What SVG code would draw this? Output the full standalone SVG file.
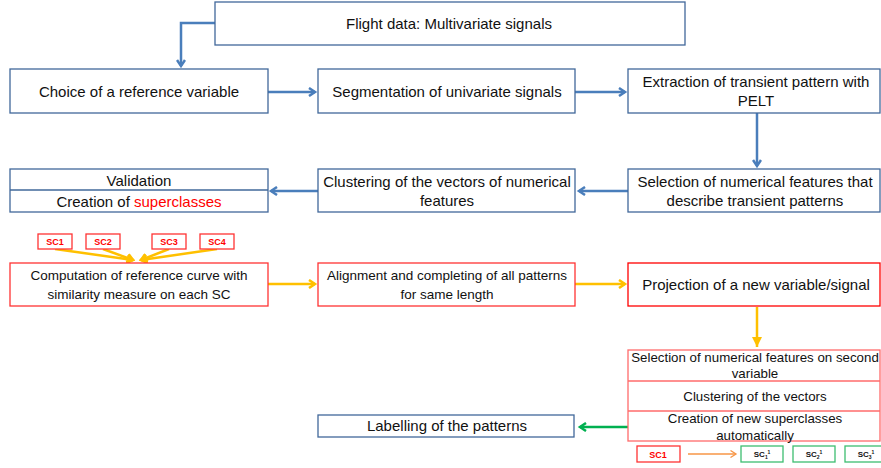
<svg xmlns="http://www.w3.org/2000/svg" width="881" height="468" viewBox="0 0 881 468">
<defs>
<marker id="ab" markerWidth="10" markerHeight="10" refX="7" refY="5" orient="auto" markerUnits="userSpaceOnUse"><path d="M1,1 L7,5 L1,9" fill="none" stroke="#4A7EBB" stroke-width="2.5"/></marker>
<marker id="ay" markerWidth="10" markerHeight="10" refX="7" refY="5" orient="auto" markerUnits="userSpaceOnUse"><path d="M1,1 L7,5 L1,9" fill="none" stroke="#FFC000" stroke-width="2.5"/></marker>
<marker id="ayf" markerWidth="12" markerHeight="12" refX="10" refY="6" orient="auto" markerUnits="userSpaceOnUse"><path d="M0,1 L10,6 L0,11 Z" fill="#FFC000"/></marker>
<marker id="ag" markerWidth="10" markerHeight="10" refX="7" refY="5" orient="auto" markerUnits="userSpaceOnUse"><path d="M1,1 L7,5 L1,9" fill="none" stroke="#00B050" stroke-width="2.5"/></marker>
<marker id="ao" markerWidth="8" markerHeight="8" refX="6" refY="4" orient="auto" markerUnits="userSpaceOnUse"><path d="M0.5,0.5 L6,4 L0.5,7.5" fill="none" stroke="#F79646" stroke-width="1.3"/></marker>
</defs>
<style>
.bb{fill:#fff;stroke:#41689A;stroke-width:1.3}
.rb{fill:#fff;stroke:#FF3333;stroke-width:1.3}
.lr{fill:#fff;stroke:#FF6B6B;stroke-width:1.3}
.gb{fill:#fff;stroke:#3DBE70;stroke-width:1.3}
.t{font-family:"Liberation Sans",Arial,sans-serif;font-size:15px;fill:#111;text-anchor:middle}
.m{font-size:13.5px}
.n{font-size:13.3px}
.s{font-family:"Liberation Sans",Arial,sans-serif;font-size:9px;font-weight:bold;fill:#FF0000;text-anchor:middle}
.sg{font-family:"Liberation Sans",Arial,sans-serif;font-size:8px;font-weight:bold;fill:#111;text-anchor:middle}
.cb{fill:none;stroke:#4A7EBB;stroke-width:2.5}
.cy{fill:none;stroke:#FFC000;stroke-width:2.5}
</style>
<g id="connectors">
<path class="cb" d="M215,23 H181 V66" marker-end="url(#ab)"/>
<path class="cb" d="M268,92 H315" marker-end="url(#ab)"/>
<path class="cb" d="M575,92 H625" marker-end="url(#ab)"/>
<path class="cb" d="M757,113 V166" marker-end="url(#ab)"/>
<path class="cb" d="M628,191 H579" marker-end="url(#ab)"/>
<path class="cb" d="M318,191 H271" marker-end="url(#ab)"/>
<path class="cy" d="M55,249 L133,260" marker-end="url(#ay)"/>
<path class="cy" d="M103,249 L133,260" marker-end="url(#ay)"/>
<path class="cy" d="M169,249 L141,260" marker-end="url(#ay)"/>
<path class="cy" d="M217,249 L141,260" marker-end="url(#ay)"/>
<path class="cy" d="M268,284 H315" marker-end="url(#ay)"/>
<path class="cy" d="M575,284 H625" marker-end="url(#ay)"/>
<path class="cy" d="M757,307 V347" marker-end="url(#ayf)"/>
<path d="M628,427 H580" fill="none" stroke="#00B050" stroke-width="2.5" marker-end="url(#ag)"/>
<path d="M688,454 H736" fill="none" stroke="#F79646" stroke-width="1.3" marker-end="url(#ao)"/>
</g>
<g id="flight"><rect class="bb" x="215" y="2" width="470" height="43"/><text class="t" x="449" y="29">Flight data: Multivariate signals</text></g>
<g id="choice"><rect class="bb" x="10" y="69" width="258" height="44"/><text class="t" x="139" y="97">Choice of a reference variable</text></g>
<g id="segmentation"><rect class="bb" x="318" y="69" width="257" height="44"/><text class="t" x="447" y="97">Segmentation of univariate signals</text></g>
<g id="extraction"><rect class="bb" x="628" y="69" width="252" height="44"/><text class="t" x="756" y="87">Extraction of transient pattern with</text><text class="t" x="756" y="106">PELT</text></g>
<g id="validation"><rect class="bb" x="10" y="169" width="258" height="43"/><line x1="10" y1="190" x2="268" y2="190" stroke="#41689A" stroke-width="1.3"/><text class="t" x="139" y="186">Validation</text><text class="t" x="139" y="207">Creation of <tspan fill="#FF0000">superclasses</tspan></text></g>
<g id="clustering"><rect class="bb" x="318" y="169" width="257" height="43"/><text class="t" x="447" y="187">Clustering of the vectors of numerical</text><text class="t" x="447" y="206">features</text></g>
<g id="selection"><rect class="bb" x="628" y="169" width="252" height="43"/><text class="t" x="755" y="187">Selection of numerical features that</text><text class="t" x="755" y="206">describe transient patterns</text></g>
<g id="sc1"><rect class="rb" x="38" y="234" width="34" height="15"/><text class="s" x="55" y="245">SC1</text></g>
<g id="sc2"><rect class="rb" x="86" y="234" width="34" height="15"/><text class="s" x="103" y="245">SC2</text></g>
<g id="sc3"><rect class="rb" x="152" y="234" width="34" height="15"/><text class="s" x="169" y="245">SC3</text></g>
<g id="sc4"><rect class="rb" x="200" y="234" width="34" height="15"/><text class="s" x="217" y="245">SC4</text></g>
<g id="computation"><rect class="rb" x="10" y="263" width="258" height="43"/><text class="t m" x="139" y="280">Computation of reference curve with</text><text class="t m" x="139" y="299">similarity measure on each SC</text></g>
<g id="alignment"><rect class="rb" x="318" y="263" width="257" height="43"/><text class="t m" x="447" y="280">Alignment and completing of all patterns</text><text class="t m" x="447" y="299">for same length</text></g>
<g id="projection"><rect fill="#fff" stroke="#FF0000" stroke-width="1.3" x="628" y="263" width="252" height="43"/><text class="t" x="756" y="290">Projection of a new variable/signal</text></g>
<g id="stack"><rect class="lr" x="628" y="350" width="252" height="91"/><line x1="628" y1="381" x2="880" y2="381" stroke="#FF6B6B" stroke-width="1.3"/><line x1="628" y1="411" x2="880" y2="411" stroke="#FF6B6B" stroke-width="1.3"/><text class="t n" x="755" y="362">Selection of numerical features on second</text><text class="t n" x="755" y="378">variable</text><text class="t n" x="755" y="401">Clustering of the vectors</text><text class="t n" x="755" y="423">Creation of new superclasses</text><text class="t n" x="755" y="440">automatically</text></g>
<g id="labelling"><rect class="bb" x="318" y="415" width="256" height="22"/><text class="t" x="447" y="431">Labelling of the patterns</text></g>
<g id="sc1b"><rect class="rb" x="637" y="446" width="43" height="16"/><text class="s" x="658" y="458">SC1</text></g>
<g id="sc11"><rect class="gb" x="741" y="446" width="42" height="16"/><text class="sg" x="762" y="457">SC<tspan font-size="5" dy="2">1</tspan><tspan font-size="5" dy="-5">1</tspan></text></g>
<g id="sc21"><rect class="gb" x="793" y="446" width="42" height="16"/><text class="sg" x="814" y="457">SC<tspan font-size="5" dy="2">2</tspan><tspan font-size="5" dy="-5">1</tspan></text></g>
<g id="sc31"><rect class="gb" x="845" y="446" width="42" height="16"/><text class="sg" x="866" y="457">SC<tspan font-size="5" dy="2">3</tspan><tspan font-size="5" dy="-5">1</tspan></text></g>
</svg>
